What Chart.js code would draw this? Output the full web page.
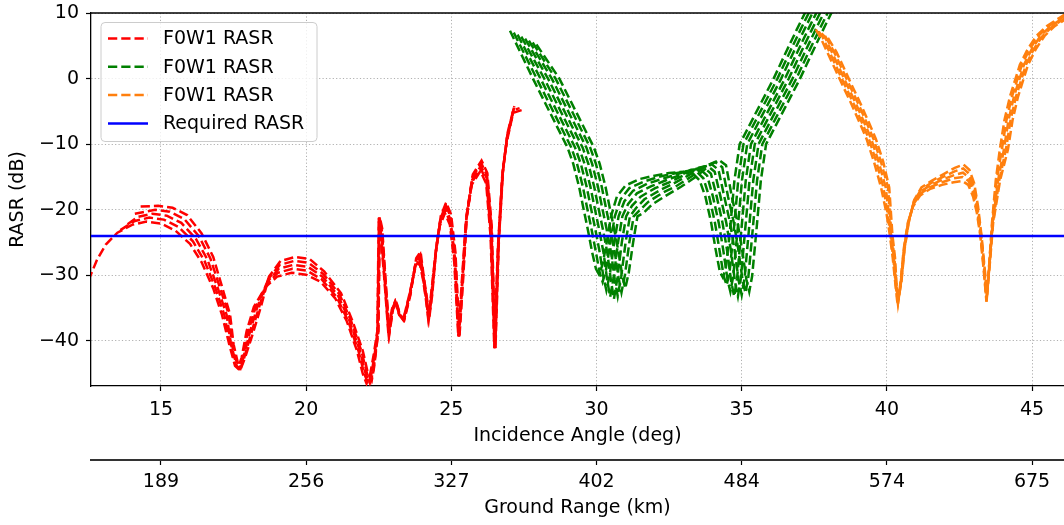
<!DOCTYPE html>
<html><head><meta charset="utf-8">
<script src="https://cdn.jsdelivr.net/npm/chart.js@4/dist/chart.umd.min.js"></script>
<style>html,body{margin:0;padding:0;background:#fff;}#wrap{width:1064px;height:525px;}</style>
</head><body><div id="wrap"><canvas id="c" width="1064" height="525"></canvas></div>
<script>
// ---- axis ranges and tick labels ----
const X_MIN = 12.59, X_MAX = 46.1, Y_MIN = -46.87, Y_MAX = 10;
const ANGLE_TICKS = [15, 20, 25, 30, 35, 40, 45];
const GROUND_RANGE_LABELS = ['189', '256', '327', '402', '484', '574', '675'];
const RASR_TICKS = [-40, -30, -20, -10, 0, 10];
const REQUIRED_RASR = -24;
const LEGEND_LABELS = ['F0W1 RASR', 'F0W1 RASR', 'F0W1 RASR', 'Required RASR'];

// ---- red family [incidence angle, RASR dB] ----
const red0 = [[12.5,-30.8],[12.8,-27.6],[13.1,-25.3],[13.5,-23.5],[14.0,-22.3],[14.5,-21.8],[15.0,-22.1],[15.5,-23.2],[16.0,-25.2],[16.4,-28],[16.8,-32],[17.1,-36],[17.35,-40.5],[17.55,-43.8],[17.65,-44.2],[17.78,-42.5],[17.95,-38.5],[18.2,-34.8],[18.6,-31.8],[19.0,-30.2],[19.5,-29.6],[20.0,-29.9],[20.5,-31],[21.0,-33.5],[21.4,-37],[21.75,-41.5],[21.95,-45],[22.08,-46.5],[22.2,-45.2],[22.33,-42],[22.45,-38.5],[22.5,-21.2],[22.58,-24.5],[22.7,-31],[22.83,-38.8],[22.95,-35.2],[23.06,-34],[23.2,-36],[23.34,-36.8],[23.55,-33],[23.75,-29],[23.9,-28],[24.02,-30.5],[24.12,-33.5],[24.2,-36.5],[24.3,-33],[24.45,-27],[24.6,-22.5],[24.78,-20.5],[24.95,-22.3],[25.1,-28],[25.24,-39.3],[25.36,-31],[25.5,-22],[25.7,-16.2],[26.0,-14.1],[26.2,-16],[26.35,-24],[26.48,-41.1],[26.6,-26],[26.75,-15],[26.9,-9.8],[27.13,-5.2],[27.42,-4.8]];
const red1 = [[13.6,-23.1],[14.1,-21.7],[14.6,-21.2],[15.1,-21.5],[15.6,-22.6],[16.1,-24.8],[16.5,-27.8],[16.88,-32],[17.18,-36],[17.38,-40.5],[17.58,-43.8],[17.68,-44.2],[17.81,-42.5],[18.01,-38.5],[18.26,-34.8],[18.63,-31.4],[19.03,-29.6],[19.53,-29.0],[20.03,-29.3],[20.53,-30.6],[21.05,-33.3],[21.45,-37],[21.8,-41.5],[22.0,-45],[22.14,-46.5],[22.25,-45],[22.36,-42],[22.46,-38.5],[22.51,-21.2],[22.59,-24.1],[22.71,-31],[22.84,-38.8],[22.96,-35.2],[23.07,-34],[23.21,-36],[23.35,-36.8],[23.56,-33],[23.76,-28.6],[23.91,-27.6],[24.03,-30.5],[24.13,-33.5],[24.21,-36.5],[24.31,-33],[24.46,-26.6],[24.61,-22.1],[24.79,-20.1],[24.96,-21.9],[25.11,-27.6],[25.25,-39.3],[25.37,-31],[25.51,-21.6],[25.71,-15.8],[26.01,-13.7],[26.21,-15.6],[26.36,-23.6],[26.49,-41.1],[26.61,-25.6],[26.76,-14.6],[26.91,-9.4],[27.14,-4.8],[27.35,-4.5]];
const red2 = [[13.85,-22.2],[14.2,-21.1],[14.7,-20.6],[15.2,-20.9],[15.7,-22.0],[16.2,-24.4],[16.6,-27.6],[16.96,-32],[17.26,-36],[17.41,-40.5],[17.61,-43.8],[17.71,-44.2],[17.84,-42.5],[18.07,-38.5],[18.32,-34.8],[18.66,-31.0],[19.06,-29.0],[19.56,-28.4],[20.06,-28.7],[20.56,-30.2],[21.1,-33.1],[21.5,-37],[21.85,-41.5],[22.05,-45],[22.19,-46.4],[22.29,-45],[22.38,-42],[22.47,-38.5],[22.52,-21.2],[22.6,-23.7],[22.72,-31],[22.85,-38.8],[22.97,-35.2],[23.08,-34],[23.22,-36],[23.36,-36.8],[23.57,-33],[23.77,-28.2],[23.92,-27.2],[24.04,-30.5],[24.14,-33.5],[24.22,-36.5],[24.32,-33],[24.47,-26.2],[24.62,-21.7],[24.8,-19.7],[24.97,-21.5],[25.12,-27.2],[25.26,-39.3],[25.38,-31],[25.52,-21.2],[25.72,-15.4],[26.02,-13.3],[26.22,-15.2],[26.37,-23.2],[26.5,-41.1],[26.62,-25.2],[26.77,-14.2],[26.92,-9.0],[27.15,-4.6]];
const red3 = [[14.1,-20.6],[14.8,-20.0],[15.3,-20.3],[15.8,-21.4],[16.3,-24.0],[16.7,-27.4],[17.04,-32],[17.34,-36],[17.44,-40.5],[17.64,-43.8],[17.74,-44.2],[17.87,-42.5],[18.13,-38.5],[18.38,-34.8],[18.69,-30.6],[19.09,-28.4],[19.59,-27.8],[20.09,-28.1],[20.59,-29.8],[21.15,-32.9],[21.55,-37],[21.9,-41.5],[22.1,-45],[22.22,-46.2],[22.31,-44.5],[22.4,-41.5],[22.48,-38.5],[22.53,-21.2],[22.61,-23.3],[22.73,-31],[22.86,-38.8],[22.98,-35.2],[23.09,-34],[23.23,-36],[23.37,-36.8],[23.58,-33],[23.78,-27.8],[23.93,-26.8],[24.05,-30.5],[24.15,-33.5],[24.23,-36.5],[24.33,-33],[24.48,-25.8],[24.63,-21.3],[24.81,-19.3],[24.98,-21.1],[25.13,-26.8],[25.27,-39.3],[25.39,-31],[25.53,-20.8],[25.73,-15.0],[26.03,-12.9],[26.23,-14.8],[26.38,-22.8],[26.51,-41.1],[26.63,-24.8],[26.78,-13.8],[26.93,-8.6],[27.16,-4.4]];
const red4 = [[14.3,-19.5],[14.9,-19.4],[15.4,-19.7],[15.9,-20.8],[16.4,-23.6],[16.8,-27.2],[17.12,-32],[17.38,-36],[17.5,-40.5],[17.67,-43.8],[17.77,-44.0],[17.9,-42.5],[18.19,-38.5],[18.44,-34.8],[18.72,-30.2],[19.12,-27.8],[19.62,-27.2],[20.12,-27.5],[20.62,-29.4],[21.2,-32.7],[21.6,-37],[21.95,-41.5],[22.13,-45],[22.26,-46.0],[22.34,-44],[22.42,-41],[22.49,-38.5],[22.54,-21.2],[22.62,-22.9],[22.74,-31],[22.87,-38.8],[22.99,-35.2],[23.1,-34],[23.24,-36],[23.38,-36.8],[23.59,-33],[23.79,-27.4],[23.94,-26.4],[24.06,-30.5],[24.16,-33.5],[24.24,-36.5],[24.34,-33],[24.49,-25.4],[24.64,-20.9],[24.82,-18.9],[24.99,-20.7],[25.14,-26.4],[25.28,-39.3],[25.4,-31],[25.54,-20.4],[25.74,-14.6],[26.04,-12.5],[26.24,-14.4],[26.39,-22.4],[26.52,-41.1],[26.64,-24.4],[26.79,-13.4],[26.94,-8.2],[27.17,-4.2]];

// ---- green family ----
const green0 = [[27.02,7.3],[27.81,0],[28.4,-5.2],[29.0,-10.5],[29.2,-13],[29.4,-16.5],[29.55,-19.8],[29.7,-23],[29.85,-26.5],[29.98,-29],[30.08,-29.8],[30.2,-28.5],[30.35,-25],[30.5,-21],[30.7,-18],[31.0,-16.3],[31.5,-15.3],[32.0,-14.8],[32.5,-14.4],[33.0,-14.2],[33.3,-14.4],[33.55,-15.5],[33.75,-18],[33.95,-22],[34.1,-26],[34.25,-29.5],[34.35,-30.3],[34.45,-29],[34.6,-23],[34.75,-15.5],[34.93,-10],[36.1,0],[36.5,3.8],[36.9,7.5],[37.2,10.2]];
const green1 = [[27.15,7.0],[27.94,0],[28.53,-5.2],[29.13,-10.5],[29.33,-13],[29.53,-16.5],[29.68,-19.8],[29.83,-23],[29.98,-26.5],[30.11,-29.6],[30.21,-31],[30.33,-29.1],[30.48,-25],[30.63,-21],[30.83,-18.4],[31.13,-16.7],[31.63,-15.7],[32.13,-15.0],[32.63,-14.5],[33.13,-14.1],[33.43,-14.1],[33.68,-15.2],[33.88,-18],[34.08,-22],[34.23,-26],[34.38,-30.1],[34.48,-31.5],[34.58,-29.6],[34.73,-23],[34.88,-15.5],[35.06,-10],[36.23,0],[36.63,3.8],[37.03,7.5],[37.33,10.2]];
const green2 = [[27.28,6.7],[28.07,0],[28.66,-5.2],[29.26,-10.5],[29.46,-13],[29.66,-16.5],[29.81,-19.8],[29.96,-23],[30.11,-26.5],[30.24,-30.3],[30.34,-32.3],[30.46,-29.8],[30.61,-25],[30.76,-21],[30.96,-18.7],[31.26,-17.1],[31.76,-16.0],[32.26,-15.3],[32.76,-14.6],[33.26,-13.9],[33.56,-13.8],[33.81,-14.8],[34.01,-18],[34.21,-22],[34.36,-26],[34.51,-30.6],[34.61,-32.5],[34.71,-30.1],[34.86,-23],[35.01,-15.5],[35.19,-10],[36.36,0],[36.76,3.8],[37.16,7.5],[37.46,10.2]];
const green3 = [[27.41,6.4],[28.2,0],[28.79,-5.2],[29.39,-10.5],[29.59,-13],[29.79,-16.5],[29.94,-19.8],[30.09,-23],[30.24,-26.5],[30.37,-30.8],[30.47,-33.3],[30.59,-30.3],[30.74,-25],[30.89,-21],[31.09,-19.1],[31.39,-17.5],[31.89,-16.4],[32.39,-15.5],[32.89,-14.7],[33.39,-13.8],[33.69,-13.5],[33.94,-14.5],[34.14,-18],[34.34,-22],[34.49,-26],[34.64,-31.0],[34.74,-33.2],[34.84,-30.5],[34.99,-23],[35.14,-15.5],[35.32,-10],[36.49,0],[36.89,3.8],[37.29,7.5],[37.59,10.2]];
const green4 = [[27.54,6.1],[28.33,0],[28.92,-5.2],[29.52,-10.5],[29.72,-13],[29.92,-16.5],[30.07,-19.8],[30.22,-23],[30.37,-26.5],[30.5,-30.9],[30.6,-33.6],[30.72,-30.4],[30.87,-25],[31.02,-21],[31.22,-19.4],[31.52,-18.0],[32.02,-16.7],[32.52,-15.8],[33.02,-14.7],[33.52,-13.6],[33.82,-13.3],[34.07,-14.2],[34.27,-18],[34.47,-22],[34.62,-26],[34.77,-31.0],[34.87,-33.2],[34.97,-30.5],[35.12,-23],[35.27,-15.5],[35.45,-10],[36.62,0],[37.02,3.8],[37.42,7.5],[37.72,10.2]];
const green5 = [[27.67,5.8],[28.46,0],[29.05,-5.2],[29.65,-10.5],[29.85,-13],[30.05,-16.5],[30.2,-19.8],[30.35,-23],[30.5,-26.5],[30.63,-30.7],[30.73,-33.2],[30.85,-30.2],[31.0,-25],[31.15,-21],[31.35,-19.8],[31.65,-18.4],[32.15,-17.1],[32.65,-16.0],[33.15,-14.8],[33.65,-13.5],[33.95,-13.0],[34.2,-13.9],[34.4,-18],[34.6,-22],[34.75,-26],[34.9,-30.9],[35.0,-33.0],[35.1,-30.4],[35.25,-23],[35.4,-15.5],[35.58,-10],[36.75,0],[37.15,3.8],[37.55,7.5],[37.85,10.2]];
const green6 = [[27.8,5.5],[28.59,0],[29.18,-5.2],[29.78,-10.5],[29.98,-13],[30.18,-16.5],[30.33,-19.8],[30.48,-23],[30.63,-26.5],[30.76,-30.4],[30.86,-32.6],[30.98,-29.9],[31.13,-25],[31.28,-21],[31.48,-20.1],[31.78,-18.8],[32.28,-17.4],[32.78,-16.3],[33.28,-14.9],[33.78,-13.3],[34.08,-12.7],[34.33,-13.5],[34.53,-18],[34.73,-22],[34.88,-26],[35.03,-30.7],[35.13,-32.7],[35.23,-30.2],[35.38,-23],[35.53,-15.5],[35.71,-10],[36.88,0],[37.28,3.8],[37.68,7.5],[37.98,10.2]];
const green7 = [[27.93,5.2],[28.72,0],[29.31,-5.2],[29.91,-10.5],[30.11,-13],[30.31,-16.5],[30.46,-19.8],[30.61,-23],[30.76,-26.5],[30.89,-30.1],[30.99,-32],[31.11,-29.6],[31.26,-25],[31.41,-21],[31.61,-20.5],[31.91,-19.2],[32.41,-17.8],[32.91,-16.5],[33.41,-15.0],[33.91,-13.2],[34.21,-12.4],[34.46,-13.2],[34.66,-18],[34.86,-22],[35.01,-26],[35.16,-30.6],[35.26,-32.5],[35.36,-30.1],[35.51,-23],[35.66,-15.5],[35.84,-10],[37.01,0],[37.41,3.8],[37.81,7.5],[38.11,10.2]];

// ---- orange family ----
const orange0 = [[37.55,7.5],[37.7,6.4],[37.95,4.0],[38.2,1.6],[38.45,-0.8],[38.75,-3.6],[39.05,-6.6],[39.3,-9.2],[39.55,-12.6],[39.8,-16.6],[39.98,-20.4],[40.1,-23.8],[40.2,-27.3],[40.29,-31.2],[40.37,-34.5],[40.47,-31],[40.58,-26],[40.72,-22],[40.9,-19.5],[41.15,-17.8],[41.5,-16.8],[41.9,-16.2],[42.3,-15.8],[42.6,-15.6],[42.8,-16.2],[42.97,-18],[43.1,-20.5],[43.22,-24],[43.33,-29],[43.43,-34],[43.53,-28],[43.62,-22],[43.75,-15.5],[43.89,-10.8],[44.05,-6.3],[44.24,-2.7],[44.58,2.1],[44.85,4.5],[45.15,6.5],[45.5,8],[45.96,9.3],[46.2,10]];
const orange1 = [[37.65,7.2],[37.78,6.4],[38.03,4.0],[38.28,1.6],[38.53,-0.8],[38.83,-3.6],[39.13,-6.6],[39.38,-9.2],[39.63,-12.6],[39.88,-16.6],[40.02,-20.4],[40.12,-23.8],[40.22,-27.3],[40.3,-31.2],[40.38,-34.3],[40.48,-31],[40.59,-26],[40.73,-22],[40.91,-19.2],[41.16,-17.5],[41.51,-16.5],[41.91,-15.8],[42.31,-15.2],[42.61,-15.0],[42.81,-15.6],[42.98,-17.5],[43.11,-20.2],[43.23,-24],[43.34,-29],[43.43,-34],[43.53,-28],[43.63,-22],[43.78,-15.5],[43.96,-10.8],[44.12,-6.3],[44.31,-2.7],[44.65,2.1],[44.92,4.5],[45.22,6.5],[45.57,8],[46.03,9.3],[46.27,10]];
const orange2 = [[37.75,6.9],[37.86,6.4],[38.11,4.0],[38.36,1.6],[38.61,-0.8],[38.91,-3.6],[39.21,-6.6],[39.46,-9.2],[39.71,-12.6],[39.96,-16.6],[40.06,-20.4],[40.14,-23.8],[40.24,-27.3],[40.31,-31.2],[40.39,-34.0],[40.49,-31],[40.6,-26],[40.74,-22],[40.92,-19.0],[41.17,-17.2],[41.52,-16.2],[41.92,-15.4],[42.32,-14.7],[42.62,-14.35],[42.82,-15.05],[42.99,-17.0],[43.12,-20.0],[43.24,-24],[43.35,-29],[43.44,-33.6],[43.54,-28],[43.64,-22],[43.83,-15.5],[44.03,-10.8],[44.19,-6.3],[44.38,-2.7],[44.72,2.1],[44.99,4.5],[45.29,6.5],[45.64,8],[46.1,9.3]];
const orange3 = [[37.87,6.5],[38.19,4.0],[38.44,1.6],[38.69,-0.8],[38.99,-3.6],[39.29,-6.6],[39.54,-9.2],[39.79,-12.6],[40.04,-16.6],[40.1,-20.4],[40.16,-23.8],[40.26,-27.3],[40.32,-31.2],[40.39,-33.8],[40.49,-31],[40.6,-26],[40.74,-22],[40.93,-18.75],[41.18,-16.9],[41.53,-15.9],[41.93,-15.0],[42.33,-14.15],[42.63,-13.7],[42.83,-14.5],[43.0,-16.5],[43.13,-19.75],[43.25,-24],[43.36,-29],[43.44,-33.3],[43.54,-28],[43.65,-22],[43.87,-15.5],[44.1,-10.8],[44.26,-6.3],[44.45,-2.7],[44.79,2.1],[45.06,4.5],[45.36,6.5],[45.71,8],[46.17,9.3]];
const orange4 = [[37.97,6.2],[38.27,4.0],[38.52,1.6],[38.77,-0.8],[39.07,-3.6],[39.37,-6.6],[39.62,-9.2],[39.87,-12.6],[40.08,-16.6],[40.13,-19.8],[40.19,-23.8],[40.28,-27.3],[40.33,-31.2],[40.4,-33.6],[40.5,-31],[40.61,-26],[40.75,-22],[40.94,-18.5],[41.19,-16.6],[41.54,-15.6],[41.94,-14.6],[42.34,-13.6],[42.64,-13.1],[42.84,-13.9],[43.01,-16],[43.14,-19.5],[43.26,-24],[43.37,-29],[43.45,-33],[43.55,-28],[43.66,-22],[43.9,-15.5],[44.17,-10.8],[44.33,-6.3],[44.52,-2.7],[44.86,2.1],[45.13,4.5],[45.43,6.5],[45.78,8],[46.24,9.3]];

const RED_CURVES = [red0, red1, red2, red3, red4];
const GREEN_CURVES = [green0, green1, green2, green3, green4, green5, green6, green7];
const ORANGE_CURVES = [orange0, orange1, orange2, orange3, orange4];

// ---- styles ----
const COLORS = ['#ff0000', '#008000', '#ff7f0e', '#0000ff'];
const FONT = 'DejaVu Sans';
Chart.defaults.font.family = FONT;
Chart.defaults.font.size = 19;
Chart.defaults.color = '#000';

function toXY(arr) { return arr.map(p => ({ x: p[0], y: p[1] })); }
const datasets = [];
[[RED_CURVES, COLORS[0], 4], [GREEN_CURVES, COLORS[1], 3], [ORANGE_CURVES, COLORS[2], 2]].forEach(([curves, color, order]) => {
  curves.forEach(c => datasets.push({
    data: toXY(c), borderColor: color, borderWidth: 2.5, borderDash: [9.25, 4],
    pointRadius: 0, fill: false, tension: 0, order: order
  }));
});
datasets.push({
  data: [{ x: X_MIN, y: REQUIRED_RASR }, { x: X_MAX, y: REQUIRED_RASR }],
  borderColor: COLORS[3], borderWidth: 2.5, pointRadius: 0, fill: false, order: 1
});

const legendPlugin = {
  id: 'boxLegend',
  afterDraw(chart) {
    const ctx = chart.ctx;
    const bx = 101, by = 22.5, bw = 216, bh = 119, r = 4;
    ctx.save();
    ctx.beginPath();
    ctx.moveTo(bx + r, by); ctx.lineTo(bx + bw - r, by); ctx.arcTo(bx + bw, by, bx + bw, by + r, r);
    ctx.lineTo(bx + bw, by + bh - r); ctx.arcTo(bx + bw, by + bh, bx + bw - r, by + bh, r);
    ctx.lineTo(bx + r, by + bh); ctx.arcTo(bx, by + bh, bx, by + bh - r, r);
    ctx.lineTo(bx, by + r); ctx.arcTo(bx, by, bx + r, by, r); ctx.closePath();
    ctx.fillStyle = 'rgba(255,255,255,0.8)'; ctx.fill();
    ctx.strokeStyle = '#cccccc'; ctx.lineWidth = 1; ctx.stroke();
    const rows = [38.5, 66.8, 95.1, 123.4];
    LEGEND_LABELS.forEach((lab, i) => {
      ctx.beginPath();
      ctx.strokeStyle = COLORS[i];
      ctx.lineWidth = 2.5;
      ctx.setLineDash(i < 3 ? [9.25, 4] : []);
      ctx.moveTo(108, rows[i]); ctx.lineTo(148, rows[i]); ctx.stroke();
      ctx.setLineDash([]);
      ctx.fillStyle = '#000';
      ctx.font = '19px "' + FONT + '"';
      ctx.textBaseline = 'middle'; ctx.textAlign = 'left';
      ctx.fillText(lab, 163, rows[i] + 1);
    });
    ctx.restore();
  }
};
const topSpine = {
  id: 'topSpine',
  afterDatasetsDraw(chart) {
    const { ctx, chartArea: a } = chart;
    ctx.save(); ctx.strokeStyle = '#000'; ctx.lineWidth = 1.3;
    ctx.beginPath(); ctx.moveTo(a.left, a.top); ctx.lineTo(a.right, a.top); ctx.stroke();
    ctx.restore();
  }
};

const angleTicks = s => { s.ticks = ANGLE_TICKS.map(v => ({ value: v })); };
new Chart(document.getElementById('c'), {
  type: 'line',
  data: { datasets },
  plugins: [topSpine, legendPlugin],
  options: {
    responsive: false, animation: false, devicePixelRatio: 1,
    events: [],
    layout: { padding: { top: 13, right: 0, bottom: 0, left: 0 } },
    plugins: { legend: { display: false }, tooltip: { enabled: false } },
    scales: {
      x: {
        type: 'linear', position: 'bottom', weight: 0, min: X_MIN, max: X_MAX,
        afterBuildTicks: angleTicks,
        afterFit: s => { s.height = 74; s.paddingLeft = 0; s.paddingRight = 0; },
        ticks: { color: '#000', padding: 7.5, maxRotation: 0, minRotation: 0, autoSkip: false, callback: v => String(v) },
        grid: { color: '#b0b0b0', lineWidth: 1, tickLength: 5, tickColor: '#000', tickWidth: 1.2 },
        border: { display: true, color: '#000', width: 1.3, dash: [1.2, 2.2] },
        title: { display: true, text: 'Incidence Angle (deg)', color: '#000', padding: { top: 0, bottom: 12.6 } }
      },
      x2: {
        type: 'linear', position: 'bottom', weight: 1, min: X_MIN, max: X_MAX,
        afterBuildTicks: angleTicks,
        afterFit: s => { s.height = 65; s.paddingLeft = 0; s.paddingRight = 0; },
        ticks: { color: '#000', padding: 6, maxRotation: 0, minRotation: 0, autoSkip: false,
                 callback: (v, i) => GROUND_RANGE_LABELS[i] },
        grid: { drawOnChartArea: false, tickLength: 5, tickColor: '#000', tickWidth: 1.2 },
        border: { display: true, color: '#333', width: 2 },
        title: { display: true, text: 'Ground Range (km)', color: '#000', padding: { top: 0, bottom: 5.6 } }
      },
      y: {
        type: 'linear', position: 'left', min: Y_MIN, max: Y_MAX,
        afterBuildTicks: s => { s.ticks = RASR_TICKS.map(v => ({ value: v })); },
        afterFit: s => { s.width = 91; s.paddingTop = 0; s.paddingBottom = 0; },
        ticks: { color: '#000', padding: 7, callback: v => (v < 0 ? '\u2212' + Math.abs(v) : String(v)) },
        grid: { color: '#b0b0b0', lineWidth: 1, tickLength: 5, tickColor: '#000', tickWidth: 1.2 },
        border: { display: true, color: '#000', width: 1.3, dash: [1.2, 2.2] },
        title: { display: true, text: 'RASR (dB)', color: '#000', padding: { top: 7, bottom: 0 } }
      }
    }
  }
});
</script>
</body></html>
